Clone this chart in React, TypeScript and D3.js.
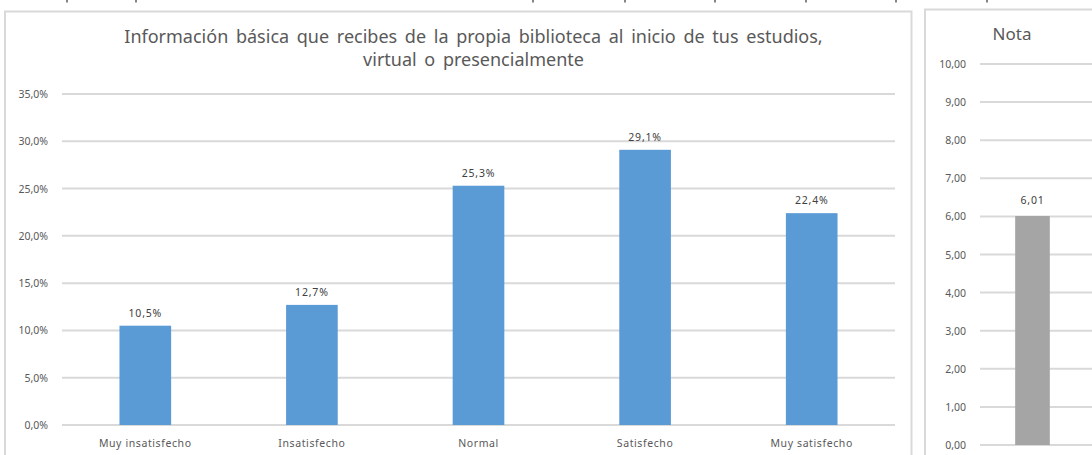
import React, { useEffect, useRef } from 'react';
import * as d3 from 'd3';

const categories = ['Muy insatisfecho', 'Insatisfecho', 'Normal', 'Satisfecho', 'Muy satisfecho'];
const percentages = [10.5, 12.7, 25.3, 29.1, 22.4];
const percentTicks = [0, 5, 10, 15, 20, 25, 30, 35];

const notaLabel = ['Nota'];
const notaValues = [6.01];
const notaTicks = [0, 1, 2, 3, 4, 5, 6, 7, 8, 9, 10];

const titleLines = [
  'Información básica que recibes de la propia biblioteca al inicio de tus estudios,',
  'virtual o presencialmente',
];

const FONT = '"Noto Sans", "Open Sans", sans-serif';
const fmt1 = (v: number) => v.toFixed(1).replace('.', ',');
const fmt2 = (v: number) => v.toFixed(2).replace('.', ',');

const renderChart = (svgEl: SVGSVGElement) => {
  const svg = d3.select(svgEl);
  svg.selectAll('*').remove();

  // stray marks from the table above the charts
  svg.append('g')
    .selectAll('line')
    .data([67, 136, 533, 625, 715, 806, 896, 987])
    .enter().append('line')
      .attr('x1', d => d).attr('x2', d => d)
      .attr('y1', 0).attr('y2', 2.5)
      .attr('stroke', '#333').attr('stroke-width', 1.2);

  // ---------- left chart ----------
  svg.append('rect')
    .attr('x', 5).attr('y', 11.5)
    .attr('width', 906.5).attr('height', 460)
    .attr('fill', '#fff').attr('stroke', '#d9d9d9').attr('stroke-width', 2);

  const left = { x0: 62, x1: 895, y0: 425, y1: 94 };

  const x = d3.scaleBand()
    .domain(categories)
    .range([left.x0, left.x1])
    .paddingInner(0.69)
    .paddingOuter(0.345);

  const y = d3.scaleLinear().domain([0, 35]).range([left.y0, left.y1]);

  svg.append('g')
    .selectAll('line')
    .data(percentTicks)
    .enter().append('line')
      .attr('x1', left.x0).attr('x2', left.x1)
      .attr('y1', d => y(d)).attr('y2', d => y(d))
      .attr('stroke', '#d9d9d9').attr('stroke-width', 2);

  svg.append('g')
    .selectAll('text')
    .data(percentTicks)
    .enter().append('text')
      .attr('x', 48).attr('y', d => y(d) + 4)
      .attr('text-anchor', 'end')
      .attr('font-family', FONT).attr('font-size', 10.5)
      .attr('fill', '#595959')
      .text(d => fmt1(d) + '%');

  svg.append('g')
    .selectAll('rect')
    .data(percentages)
    .enter().append('rect')
      .attr('x', (d, i) => x(categories[i]) as number)
      .attr('width', x.bandwidth())
      .attr('y', d => y(d))
      .attr('height', d => y(0) - y(d))
      .attr('fill', '#5b9bd5');

  svg.append('g')
    .selectAll('text')
    .data(percentages)
    .enter().append('text')
      .attr('x', (d, i) => (x(categories[i]) as number) + x.bandwidth() / 2)
      .attr('y', d => y(d) - 9)
      .attr('text-anchor', 'middle')
      .attr('font-family', FONT).attr('font-size', 10.5)
      .attr('letter-spacing', 0.8)
      .attr('fill', '#404040')
      .text(d => fmt1(d) + '%');

  svg.append('g')
    .selectAll('text')
    .data(categories)
    .enter().append('text')
      .attr('x', d => (x(d) as number) + x.bandwidth() / 2)
      .attr('y', 447)
      .attr('text-anchor', 'middle')
      .attr('font-family', FONT).attr('font-size', 10.5)
      .attr('letter-spacing', 0.6)
      .attr('fill', '#595959')
      .text(d => d);

  svg.append('g')
    .selectAll('text')
    .data(titleLines)
    .enter().append('text')
      .attr('x', 473.5)
      .attr('y', (d, i) => 43 + i * 23)
      .attr('text-anchor', 'middle')
      .attr('font-family', FONT).attr('font-size', 18)
      .attr('word-spacing', 3)
      .attr('fill', '#595959')
      .text(d => d);

  // ---------- right chart ----------
  svg.append('rect')
    .attr('x', 925).attr('y', 9.5)
    .attr('width', 200).attr('height', 460)
    .attr('fill', '#fff').attr('stroke', '#d9d9d9').attr('stroke-width', 2);

  const right = { x0: 980, x1: 1085, y0: 445, y1: 64 };

  const xn = d3.scaleBand()
    .domain(notaLabel)
    .range([right.x0, right.x1])
    .paddingInner(0.67)
    .paddingOuter(0.335);

  const yn = d3.scaleLinear().domain([0, 10]).range([right.y0, right.y1]);

  svg.append('g')
    .selectAll('line')
    .data(notaTicks)
    .enter().append('line')
      .attr('x1', right.x0).attr('x2', 1092)
      .attr('y1', d => yn(d)).attr('y2', d => yn(d))
      .attr('stroke', '#d9d9d9').attr('stroke-width', 2);

  svg.append('g')
    .selectAll('text')
    .data(notaTicks)
    .enter().append('text')
      .attr('x', 966).attr('y', d => yn(d) + 4)
      .attr('text-anchor', 'end')
      .attr('font-family', FONT).attr('font-size', 10.5)
      .attr('fill', '#595959')
      .text(d => fmt2(d));

  svg.append('g')
    .selectAll('rect')
    .data(notaValues)
    .enter().append('rect')
      .attr('x', (d, i) => xn(notaLabel[i]) as number)
      .attr('width', xn.bandwidth())
      .attr('y', d => yn(d))
      .attr('height', d => yn(0) - yn(d))
      .attr('fill', '#a5a5a5');

  svg.append('g')
    .selectAll('text')
    .data(notaValues)
    .enter().append('text')
      .attr('x', (d, i) => (xn(notaLabel[i]) as number) + xn.bandwidth() / 2)
      .attr('y', d => yn(d) - 12)
      .attr('text-anchor', 'middle')
      .attr('font-family', FONT).attr('font-size', 10.5)
      .attr('letter-spacing', 0.8)
      .attr('fill', '#404040')
      .text(d => fmt2(d));

  svg.append('text')
    .attr('x', 1012).attr('y', 40)
    .attr('text-anchor', 'middle')
    .attr('font-family', FONT).attr('font-size', 17)
    .attr('fill', '#595959')
    .text(notaLabel[0]);
};

const App = () => {
  const ref = useRef<SVGSVGElement>(null);
  useEffect(() => {
    document.body.style.margin = '0';
    if (ref.current) renderChart(ref.current);
  }, []);
  return (
    <svg
      ref={ref}
      width={1092}
      height={455}
      style={{ display: 'block', background: '#fff' }}
    />
  );
};

export default App;
